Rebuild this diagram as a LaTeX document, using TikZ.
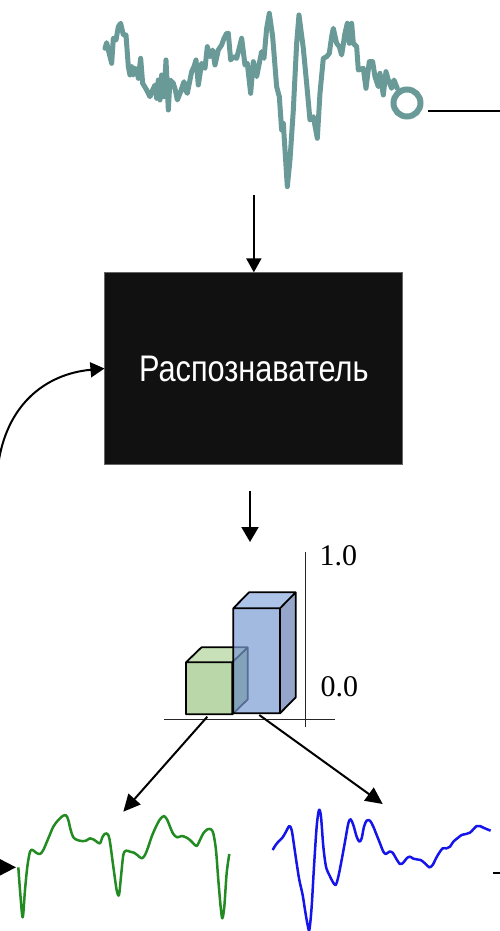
\documentclass[tikz,border=0pt]{standalone}
\usepackage{fontspec}
\setmainfont{Liberation Serif}
\newfontfamily\boxfont[FakeStretch=0.83]{Liberation Sans}
\usetikzlibrary{arrows.meta}
\definecolor{sigteal}{RGB}{106,154,152}
\definecolor{siggreen}{RGB}{34,139,34}
\definecolor{sigblue}{RGB}{20,20,235}
\definecolor{boxfill}{RGB}{17,17,17}
\definecolor{gfront}{RGB}{185,215,168}
\definecolor{gtop}{RGB}{200,225,184}
\definecolor{gside}{RGB}{150,185,130}
\definecolor{bfront}{RGB}{122,155,211}
\definecolor{btop}{RGB}{140,170,222}
\definecolor{bside}{RGB}{105,128,180}
\tikzset{
  flow/.style={line width=2pt,-{Triangle[length=14pt,width=15pt]}},
  barline/.style={line width=1.8pt,line join=round},
  axisline/.style={line width=0.9pt,black!85},
  ticklabel/.style={font=\fontsize{30}{32}\selectfont,inner sep=0pt,anchor=base west},
}
\begin{document}
\begin{tikzpicture}[x=1pt,y=-1pt]
\useasboundingbox (0,0) rectangle (500,931);

% ---- top signal ----
\begin{scope}[shift={(90,0)},x=0.3333pt,y=-0.3333pt]
\draw[sigteal,line width=5pt,line join=round,line cap=round]
 (45,145)--(50,128)--(55,150)--(60,170)--(65,190)--(70,115)--(78,120)--(85,80)--(92,70)--(100,105)--(108,105)--(115,200)--(120,225)--(125,200)--(130,225)--(135,205)--(140,210)--(145,235)--(152,175)--(158,250)--(170,270)--(180,290)--(188,270)--(195,255)--(200,295)--(205,240)--(210,300)--(215,225)--(222,290)--(228,180)--(235,330)--(240,240)--(250,250)--(256,270)--(262,300)--(272,275)--(282,245)--(287,270)--(292,280)--(298,250)--(305,215)--(312,200)--(318,180)--(325,255)--(335,190)--(340,200)--(345,205)--(352,140)--(360,170)--(368,150)--(375,195)--(385,150)--(395,135)--(402,115)--(410,100)--(415,100)--(422,180)--(430,170)--(440,175)--(455,115)--(465,195)--(472,190)--(482,280)--(490,185)--(500,230)--(508,190)--(515,155)--(522,175)--(530,85)--(538,40)--(548,110)--(560,260)--(568,290)--(575,390)--(580,370)--(592,560)--(600,480)--(610,330)--(620,130)--(627,45)--(640,145)--(650,250)--(660,360)--(670,350)--(682,415)--(690,280)--(700,175)--(710,170)--(718,160)--(725,110)--(730,85)--(740,130)--(748,140)--(755,165)--(765,100)--(772,70)--(778,130)--(785,70)--(790,130)--(800,140)--(805,210)--(820,205)--(828,265)--(838,185)--(848,185)--(855,230)--(865,260)--(870,220)--(880,285)--(888,215)--(895,240)--(905,265)--(912,240)--(922,265);
\end{scope}
\draw[sigteal,line width=6pt] (407,103) circle (13.5pt);
\node[circle,minimum size=34pt,inner sep=0pt] (ring) at (407,103) {};
\coordinate (rightend) at (505,111);
\draw[line width=1.8pt] (428,111) -- (rightend);

% ---- recogniser box ----
\node[draw=black!60,line width=0.8pt,fill=boxfill,minimum width=298pt,minimum height=191.5pt,inner sep=0pt,
      text=white,font=\boxfont\fontsize{37}{40}\selectfont] (rec) at (253.85,368.5) {Распознаватель};

\coordinate (a1) at (253.85,195);
\draw[flow] (a1) -- (rec.north);

\coordinate (a2s) at (250,491);
\coordinate (a2e) at (250,542);
\draw[flow,-{Triangle[length=15pt,width=17pt]}] (a2s) -- (a2e);

% feedback curve from the left
\coordinate (fb) at (-2,466);
\draw[flow] (fb) .. controls (6,405) and (45,374) .. (rec.west);

% ---- bar chart ----
\draw[axisline] (164,719.3) -- (335,719.3);
\draw[axisline] (305,551.7) -- (305,726.7);
\node[ticklabel] (t1) at (319.5,565.7) {1.0};
\node[ticklabel] (t0) at (320.5,696.7) {0.0};

% green cube
\fill[gtop] (186,662.3) -- (201.5,647.3) -- (247.8,647.3) -- (232.3,662.3) -- cycle;
\fill[gside] (232.3,662.3) -- (247.8,647.3) -- (247.8,699.3) -- (232.3,714.3) -- cycle;
\fill[gfront] (186,662.3) rectangle (232.3,714.3);
\draw[barline] (186,714.3) -- (186,662.3) -- (201.5,647.3) -- (247.8,647.3) -- (247.8,699.3) -- (232.3,714.3) -- cycle
  (186,662.3) -- (232.3,662.3) -- (247.8,647.3) (232.3,662.3) -- (232.3,714.3);

% blue bar (semi transparent)
\fill[bfront,fill opacity=0.7] (233.3,608.3) rectangle (280,713.3);
\fill[btop,fill opacity=0.7] (233.3,608.3) -- (249,592.3) -- (295.7,592.3) -- (280,608.3) -- cycle;
\fill[bside,fill opacity=0.7] (280,608.3) -- (295.7,592.3) -- (295.7,697.3) -- (280,713.3) -- cycle;
\draw[barline] (233.3,713.3) -- (233.3,608.3) -- (249,592.3) -- (295.7,592.3) -- (295.7,697.3) -- (280,713.3) -- cycle
  (233.3,608.3) -- (280,608.3) -- (295.7,592.3) (280,608.3) -- (280,713.3);

\coordinate (gb) at (207.3,716.7);
\coordinate (bb) at (259.3,715);
\coordinate (gtgt) at (123.3,811.7);
\coordinate (btgt) at (382.7,804);
\draw[flow,-{Triangle[length=17pt,width=16pt]}] (gb) -- (gtgt);
\draw[flow,-{Triangle[length=17pt,width=16pt]}] (bb) -- (btgt);

% ---- green signal ----
\begin{scope}[shift={(0,780)},x=0.3333pt,y=-0.3333pt]
\draw[siggreen,line width=2.5pt,line join=round] plot[smooth,tension=0.5] coordinates {
(55,262)(60,330)(68,412)(75,330)(82,260)(90,215)(98,210)(108,218)(120,222)(130,210)(145,175)(160,140)(175,120)(188,108)(198,106)(205,120)(212,150)(220,172)(232,180)(245,183)(258,182)(270,175)(280,178)(290,185)(300,190)(308,170)(318,160)(328,175)(340,260)(350,330)(357,345)(363,290)(370,225)(378,212)(390,215)(402,218)(412,225)(425,235)(435,225)(445,200)(455,170)(468,140)(480,118)(492,108)(502,120)(510,140)(520,162)(532,172)(545,168)(558,172)(570,180)(580,190)(590,198)(600,180)(610,160)(622,148)(633,148)(640,160)(648,210)(655,300)(662,380)(667,415)(673,380)(680,280)(688,222)};
\end{scope}
\coordinate (inL) at (-6,867.3);
\coordinate (inLt) at (16,867.3);
\draw[flow,-{Triangle[length=17pt,width=17pt]}] (inL) -- (inLt);

% ---- blue signal ----
\begin{scope}[shift={(250,780)},x=0.3333pt,y=-0.3333pt]
\draw[sigblue,line width=2.5pt,line join=round] plot[smooth,tension=0.5] coordinates {
(68,210)(75,198)(85,185)(98,172)(108,155)(118,138)(125,150)(132,195)(140,250)(148,300)(158,345)(165,390)(172,430)(178,450)(185,380)(192,260)(200,140)(207,90)(213,110)(220,200)(228,260)(238,285)(248,305)(257,315)(265,290)(275,240)(285,185)(295,130)(302,118)(310,135)(320,170)(328,185)(335,175)(342,140)(350,122)(360,122)(370,140)(380,165)(390,190)(400,215)(408,222)(418,215)(428,218)(438,235)(450,252)(460,248)(470,235)(480,230)(490,236)(500,238)(512,240)(525,250)(538,262)(548,255)(558,235)(568,218)(578,205)(590,205)(600,200)(610,185)(622,175)(635,165)(648,162)(660,158)(670,148)(680,138)(690,138)(700,143)(712,148)(722,152)};
\end{scope}
\coordinate (outR) at (493,873.3);
\coordinate (outRe) at (506,873.3);
\draw[line width=1.8pt] (outR) -- (outRe);
\end{tikzpicture}
\end{document}
